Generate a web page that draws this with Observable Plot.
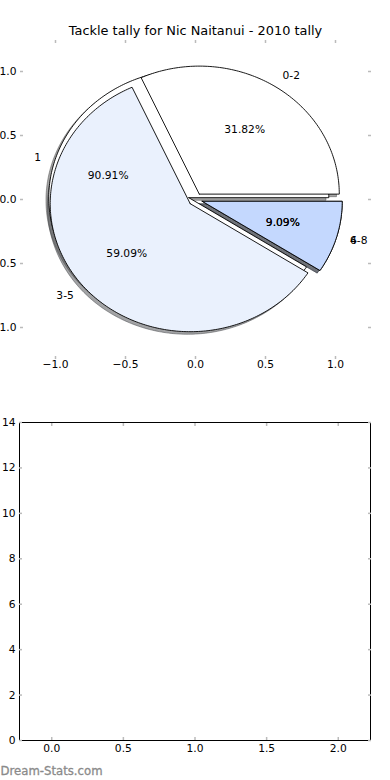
<!DOCTYPE html>
<html><head><meta charset="utf-8">
<script src="https://cdn.jsdelivr.net/npm/d3@7"></script>
<script src="https://cdn.jsdelivr.net/npm/@observablehq/plot@0.6"></script>
<style>body{margin:0;background:#fff;} svg{display:block}</style>
</head><body><div id="chart"></div>
<script>
const chartTitle = "Tackle tally for Nic Naitanui - 2010 tally";
const pieALabels = ["0-2", "3-5", "6-8"];
const pieAValues = [7, 13, 2];
const pieBLabels = ["1", "4"];
const pieBValues = [20, 2];
const sliceColors = ["#ffffff", "#eaf1fd", "#c4d8fe"];
const pieTicks = [-1, -0.5, 0, 0.5, 1];
const lowerXTicks = [0, 0.5, 1, 1.5, 2];
const lowerYTicks = [0, 2, 4, 6, 8, 10, 12, 14];
const watermark = "Dream-Stats.com";

const EXPLODE = 0.05, SHADOW = 0.02;
const FONT = "DejaVu Sans";
const FS = 10.7;

function buildPie(values, labels) {
  const total = d3.sum(values);
  let start = 0;
  return values.map((v, i) => {
    const frac = v / total;
    const t1 = start, t2 = start + frac * 360;
    start = t2;
    const mid = (t1 + t2) / 2 * Math.PI / 180;
    const cx = EXPLODE * Math.cos(mid), cy = EXPLODE * Math.sin(mid);
    const pts = [{x: cx, y: cy}];
    const n = Math.max(2, Math.ceil(t2 - t1));
    for (let k = 0; k <= n; k++) {
      const a = (t1 + (t2 - t1) * k / n) * Math.PI / 180;
      pts.push({x: cx + Math.cos(a), y: cy + Math.sin(a)});
    }
    pts.push({x: cx, y: cy});
    const c = d3.rgb(sliceColors[i % sliceColors.length]);
    return {
      color: c.formatHex(),
      shadow: d3.rgb(c.r * 0.3, c.g * 0.3, c.b * 0.3).formatHex(),
      pts,
      label: labels[i],
      pct: (frac * 100).toFixed(2) + "%",
      lx: cx + 1.1 * Math.cos(mid), ly: cy + 1.1 * Math.sin(mid),
      px: cx + 0.6 * Math.cos(mid), py: cy + 0.6 * Math.sin(mid)
    };
  });
}

const pieB = buildPie(pieBValues, pieBLabels);
const pieA = buildPie(pieAValues, pieALabels);
const wedges = [...pieB, ...pieA];

const pieMarks = [];
for (const w of wedges) {
  pieMarks.push(Plot.line(w.pts.map(p => ({x: p.x - SHADOW, y: p.y - SHADOW})), {
    x: "x", y: "y", fill: w.shadow, fillOpacity: 0.5, stroke: w.shadow, strokeOpacity: 0.5, strokeWidth: 1, curve: "linear"
  }));
}
for (const w of wedges) {
  pieMarks.push(Plot.line(w.pts, {x: "x", y: "y", fill: w.color, stroke: "black", strokeWidth: 0.9, curve: "linear"}));
}
for (const w of wedges) {
  pieMarks.push(Plot.text([w], {x: "lx", y: "ly", text: "label", textAnchor: w.lx > 0 ? "start" : "end", lineAnchor: "middle", fontSize: FS, fill: "black"}));
  pieMarks.push(Plot.text([w], {x: "px", y: "py", text: "pct", textAnchor: "middle", lineAnchor: "middle", fontSize: FS, fill: "black"}));
}

const tickStroke = "#bbbbbb";
const fmt1 = d3.format(".1f");
const pieChart = Plot.plot({
  width: 390, height: 390,
  marginLeft: 20, marginRight: 20, marginTop: 39, marginBottom: 31,
  style: {fontFamily: FONT, fontSize: FS + "px", background: "white", color: "black"},
  x: {domain: [-1.25, 1.25]},
  y: {domain: [-1.25, 1.25]},
  marks: [
    ...pieMarks,
    Plot.axisX(pieTicks, {anchor: "bottom", tickSize: 0, tickPadding: 1, tickFormat: fmt1, label: null, fontSize: FS}),
    Plot.axisY(pieTicks, {anchor: "left", tickSize: 0, tickPadding: 4, tickFormat: fmt1, label: null, fontSize: FS}),
    Plot.axisX(pieTicks, {anchor: "bottom", tickSize: -3, tickFormat: () => "", label: null, stroke: tickStroke, strokeWidth: 1.5}),
    Plot.axisX(pieTicks, {anchor: "top", tickSize: -3, tickFormat: () => "", label: null, stroke: tickStroke, strokeWidth: 1.5}),
    Plot.axisY(pieTicks, {anchor: "left", tickSize: -3, tickFormat: () => "", label: null, stroke: tickStroke, strokeWidth: 1.5}),
    Plot.axisY(pieTicks, {anchor: "right", tickSize: -3, tickFormat: () => "", label: null, stroke: tickStroke, strokeWidth: 1.5}),
    Plot.text([chartTitle], {frameAnchor: "top", dy: -9, text: d => d, fontSize: 12.9, lineAnchor: "middle", textAnchor: "middle", fill: "black"})
  ]
});

const emptyChart = Plot.plot({
  width: 390, height: 390,
  marginLeft: 19, marginRight: 20, marginTop: 32, marginBottom: 40,
  style: {fontFamily: FONT, fontSize: FS + "px", background: "white", color: "black"},
  x: {domain: [-0.225, 2.225]},
  y: {domain: [0, 14]},
  marks: [
    Plot.frame({stroke: "black", strokeWidth: 1}),
    Plot.axisX(lowerXTicks, {anchor: "bottom", tickSize: 0, tickPadding: 4, tickFormat: fmt1, label: null, fontSize: FS}),
    Plot.axisY(lowerYTicks, {anchor: "left", tickSize: 0, tickPadding: 4, tickFormat: d3.format("d"), label: null, fontSize: FS}),
    Plot.axisX(lowerXTicks, {anchor: "bottom", tickSize: -3, tickFormat: () => "", label: null, stroke: tickStroke, strokeWidth: 1.5}),
    Plot.axisX(lowerXTicks, {anchor: "top", tickSize: -3, tickFormat: () => "", label: null, stroke: tickStroke, strokeWidth: 1.5}),
    Plot.axisY(lowerYTicks, {anchor: "left", tickSize: -3, tickFormat: () => "", label: null, stroke: tickStroke, strokeWidth: 1.5}),
    Plot.axisY(lowerYTicks, {anchor: "right", tickSize: -3, tickFormat: () => "", label: null, stroke: tickStroke, strokeWidth: 1.5}),
    Plot.text([watermark], {frameAnchor: "bottom-left", dx: -19, dy: 30.5, text: d => d, fontSize: 11.7, textAnchor: "start", lineAnchor: "middle", fill: "#8a8a8a", stroke: "#8a8a8a", strokeWidth: 0.3})
  ]
});

const host = document.getElementById("chart");
host.appendChild(pieChart);
host.appendChild(emptyChart);
</script>
</body></html>
